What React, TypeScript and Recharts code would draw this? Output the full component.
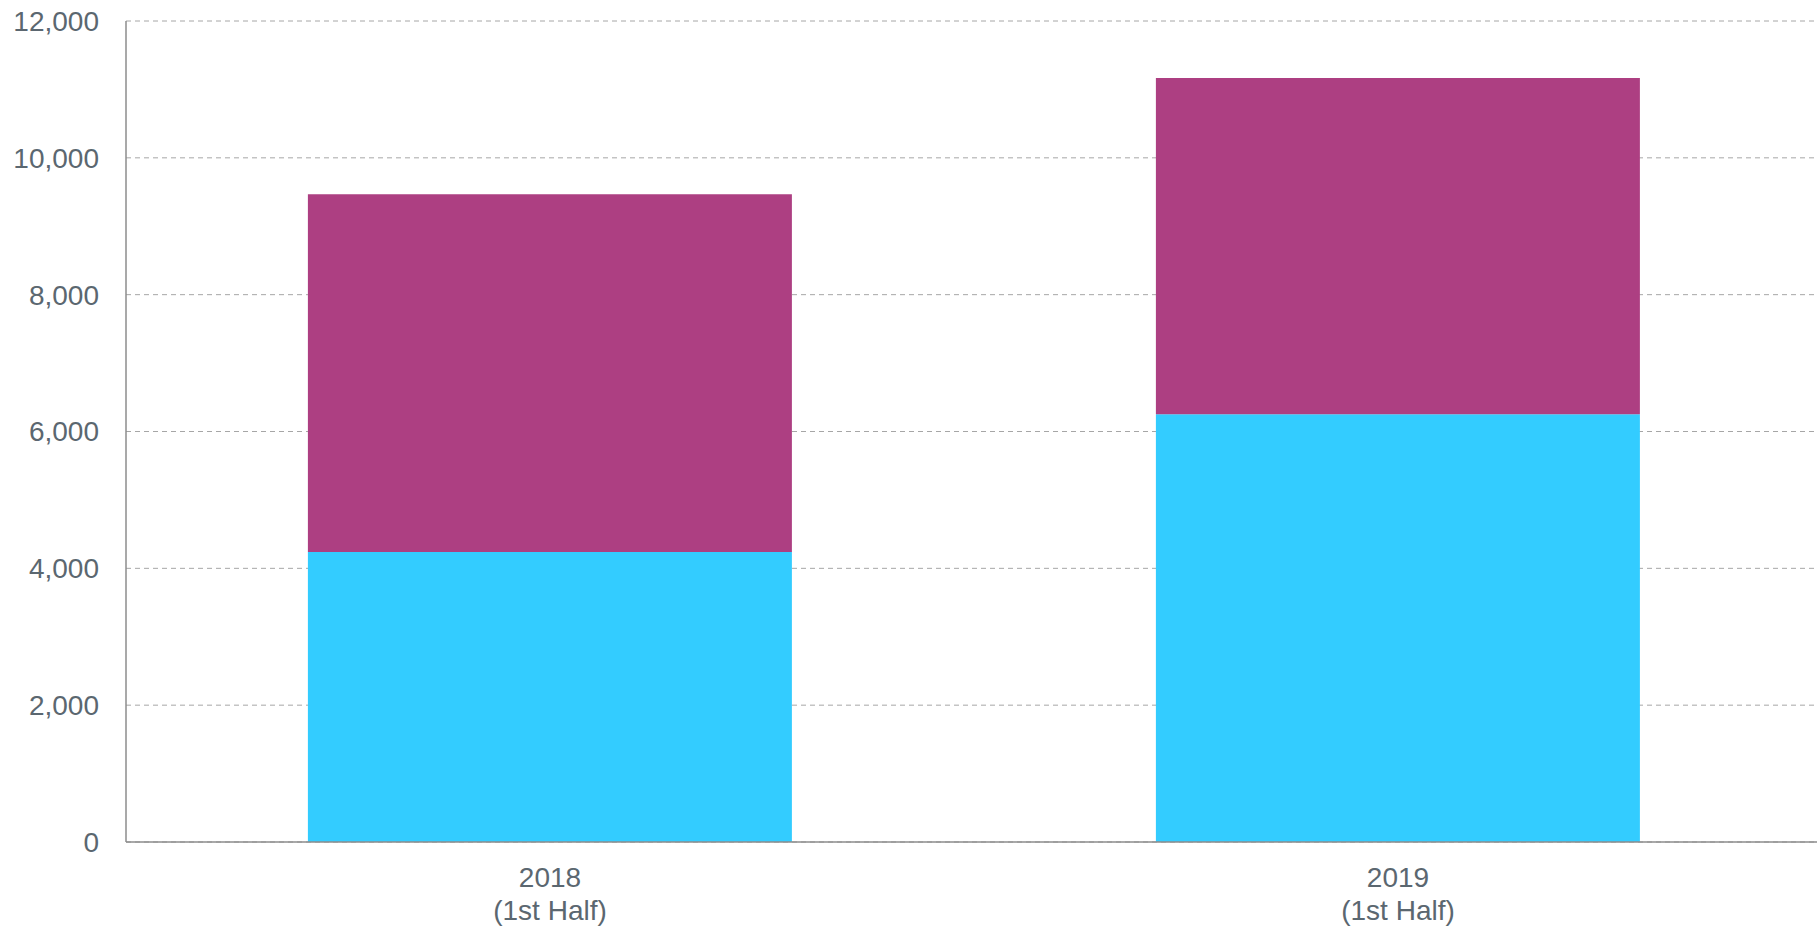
import { BarChart, Bar, XAxis, YAxis, CartesianGrid } from 'recharts';

const years = ['2018', '2019'];
const periods = ['(1st Half)', '(1st Half)'];
const lowerValues = [4237, 6252];
const upperValues = [5232, 4914];
const yTicks = [0, 2000, 4000, 6000, 8000, 10000, 12000];

const data = years.map((y, i) => ({
  name: y,
  period: periods[i],
  lower: lowerValues[i],
  upper: upperValues[i],
}));

const textColor = '#5B6770';
const font = '"Liberation Sans", Arial, sans-serif';

function CategoryTick(props: any) {
  const { x, y, payload, index } = props;
  return (
    <text x={x} y={y} textAnchor="middle" fill={textColor} fontSize={28} fontFamily={font}>
      <tspan x={x} dy={45}>{payload.value}</tspan>
      <tspan x={x} dy={33}>{periods[index]}</tspan>
    </text>
  );
}

export default function App() {
  return (
    <div style={{ position: 'absolute', left: 0, top: 0, width: 1817, height: 928, background: '#fff', overflow: 'hidden' }}>
      <BarChart
        width={1817}
        height={928}
        data={data}
        margin={{ top: 21, right: -5, left: 0, bottom: 0 }}
        barCategoryGap="21.45%"
        style={{ overflow: 'hidden' }}
      >
        <CartesianGrid horizontal vertical={false} strokeDasharray="5 4" stroke="#a6a6a6" />
        <XAxis
          dataKey="name"
          height={86}
          axisLine={{ stroke: '#8c8c8c', strokeWidth: 1.5 }}
          tickLine={false}
          tickSize={0}
          tickMargin={0}
          tick={<CategoryTick />}
          interval={0}
        />
        <YAxis
          width={126}
          domain={[0, 12000]}
          ticks={yTicks}
          interval={0}
          axisLine={{ stroke: '#8c8c8c', strokeWidth: 1.5 }}
          tickLine={false}
          tickSize={0}
          tickMargin={27}
          tickFormatter={(v: number) => v.toLocaleString('en-US')}
          tick={{ fill: textColor, fontSize: 28, fontFamily: font }}
        />
        <Bar dataKey="lower" stackId="a" fill="#33CCFF" isAnimationActive={false} />
        <Bar dataKey="upper" stackId="a" fill="#AD3F82" isAnimationActive={false} />
      </BarChart>
    </div>
  );
}
